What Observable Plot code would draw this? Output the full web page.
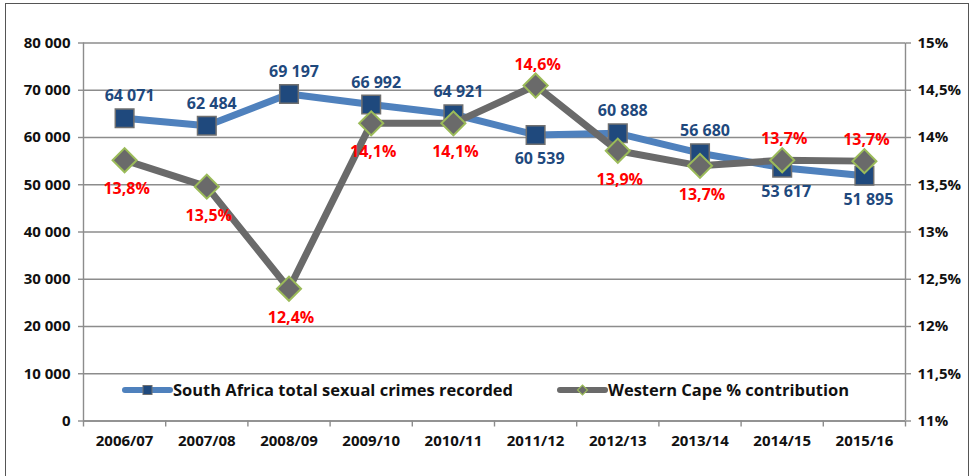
<!DOCTYPE html>
<html>
<head>
<meta charset="utf-8">
<script src="https://cdn.jsdelivr.net/npm/d3@7"></script>
<script src="https://cdn.jsdelivr.net/npm/@observablehq/plot@0.6"></script>
<style>
  html, body { margin: 0; padding: 0; background: #fff; }
  #wrap { position: relative; width: 974px; height: 476px; overflow: hidden; font-family: "Open Sans", "DejaVu Sans", sans-serif; }
  #frame { position: absolute; left: 5px; top: 3px; width: 964px; height: 500px; border: 1.5px solid #555; box-sizing: border-box; pointer-events: none; }
  #chart { position: absolute; left: 0; top: 0; }
  #legend { position: absolute; left: 0; top: 0; pointer-events: none; }
</style>
</head>
<body>
<div id="wrap">
  <div id="chart"></div>
  <div id="legend"></div>
  <div id="frame"></div>
</div>
<script>
const categories = ["2006/07","2007/08","2008/09","2009/10","2010/11","2011/12","2012/13","2013/14","2014/15","2015/16"];
const saTotals = [64071, 62484, 69197, 66992, 64921, 60539, 60888, 56680, 53617, 51895];
const saLabelPos = ["above","above","above","above","above","below","above","above","below","below"];
const wcShare = [13.76, 13.48, 12.40, 14.15, 14.15, 14.55, 13.86, 13.70, 13.76, 13.75];
const wcLabels = ["13,8%","13,5%","12,4%","14,1%","14,1%","14,6%","13,9%","13,7%","13,7%","13,7%"];
const wcLabelPos = ["below","below","below","below","below","above","below","below","above","above"];
const leftTicks = [0, 10000, 20000, 30000, 40000, 50000, 60000, 70000, 80000];
const rightTicks = [11, 11.5, 12, 12.5, 13, 13.5, 14, 14.5, 15];
const seriesNames = ["South Africa total sexual crimes recorded", "Western Cape % contribution"];

const locale = d3.formatLocale({decimal: ",", thousands: " ", grouping: [3], currency: ["", ""]});
const fmtInt = locale.format(",d");
const fmtPct = p => String(p).replace(".", ",") + "%";
const pctMin = 11, pctMax = 15, yMax = 80000;
const pctToY = p => (p - pctMin) / (pctMax - pctMin) * yMax;

const sa = categories.map((c, i) => ({i, c, v: saTotals[i], pos: saLabelPos[i]}));
const wc = categories.map((c, i) => ({i, c, p: wcShare[i], y: pctToY(wcShare[i]), label: wcLabels[i], pos: wcLabelPos[i]}));

const font = "'Open Sans', 'DejaVu Sans', sans-serif";
const navy = "#1F497D", blue = "#4F81BD", gray = "#6A6A6A", green = "#9BBB59", red = "#FF0000", grid = "#8C8C8C", ink = "#111";
const n = categories.length;

const chart = Plot.plot({
  width: 974,
  height: 476,
  marginLeft: 83,
  marginRight: 69,
  marginTop: 42.5,
  marginBottom: 55.5,
  x: {domain: [0, n], axis: null},
  y: {domain: [0, yMax], axis: null},
  style: {fontFamily: font, background: "transparent", overflow: "visible"},
  marks: [
    Plot.gridY(leftTicks, {stroke: grid, strokeOpacity: 1, strokeWidth: 1.4}),
    Plot.ruleX([0, n], {stroke: grid, strokeWidth: 1.4}),
    Plot.ruleY([0], {stroke: grid, strokeWidth: 1.4}),
    // axis tick marks
    Plot.axisY(leftTicks, {anchor: "left", tickSize: 5, stroke: grid, strokeWidth: 1.4, tickFormat: () => ""}),
    Plot.axisY(rightTicks.map(pctToY), {anchor: "right", tickSize: 5, stroke: grid, strokeWidth: 1.4, tickFormat: () => ""}),
    Plot.axisX(d3.range(n + 1), {anchor: "bottom", tickSize: 6, stroke: grid, strokeWidth: 1.4, tickFormat: () => ""}),
    // axis tick labels
    Plot.text(leftTicks, {x: 0, y: d => d, text: fmtInt, textAnchor: "end", dx: -13, fontSize: 15, fontWeight: "bold", fill: ink}),
    Plot.text(rightTicks, {x: n, y: pctToY, text: fmtPct, textAnchor: "start", dx: 12, fontSize: 15, fontWeight: "bold", fill: ink}),
    Plot.text(categories, {x: (d, i) => i + 0.5, y: 0, text: d => d, dy: 20, fontSize: 15, fontWeight: "bold", fill: ink}),
    // South Africa series
    Plot.line(sa, {x: d => d.i + 0.5, y: "v", stroke: blue, strokeWidth: 7, strokeLinejoin: "round", strokeLinecap: "round"}),
    Plot.dot(sa, {x: d => d.i + 0.5, y: "v", symbol: "square", r: 10.5, fill: navy, stroke: "#707070", strokeWidth: 1.5}),
    // Western Cape series
    Plot.line(wc, {x: d => d.i + 0.5, y: "y", stroke: gray, strokeWidth: 7, strokeLinejoin: "round", strokeLinecap: "round"}),
    Plot.dot(wc, {x: d => d.i + 0.5, y: "y", symbol: "square", rotate: 45, r: 9.6, fill: gray, stroke: green, strokeWidth: 2}),
    // Data labels
    Plot.text(sa.filter(d => d.pos === "above"), {x: d => d.i + 0.5, y: "v", text: d => fmtInt(d.v), dy: -22, dx: 5, fill: navy, fontSize: 16, fontWeight: "bold"}),
    Plot.text(sa.filter(d => d.pos === "below"), {x: d => d.i + 0.5, y: "v", text: d => fmtInt(d.v), dy: 24, dx: 4, fill: navy, fontSize: 16, fontWeight: "bold"}),
    Plot.text(wc.filter(d => d.pos === "above"), {x: d => d.i + 0.5, y: "y", text: "label", dy: -21, dx: 2, fill: red, fontSize: 16, fontWeight: "bold"}),
    Plot.text(wc.filter(d => d.pos === "below"), {x: d => d.i + 0.5, y: "y", text: "label", dy: 29, dx: 2, fill: red, fontSize: 16, fontWeight: "bold"})
  ]
});
document.getElementById("chart").appendChild(chart);

// Legend overlay (inside plot area, as in reference)
const leg = d3.select("#legend").append("svg").attr("width", 974).attr("height", 476)
  .style("font-family", font);
const entries = [
  {name: seriesNames[0], x0: 125, line: blue, kind: "square", w: 340},
  {name: seriesNames[1], x0: 560, line: gray, kind: "diamond", w: 241}
];
const ly = 390;
entries.forEach(e => {
  const g = leg.append("g");
  g.append("line").attr("x1", e.x0).attr("x2", e.x0 + 45).attr("y1", ly).attr("y2", ly)
    .attr("stroke", e.line).attr("stroke-width", 6).attr("stroke-linecap", "round");
  const cx = e.x0 + 22.5;
  if (e.kind === "square") {
    g.append("rect").attr("x", cx - 4.5).attr("y", ly - 4.5).attr("width", 9).attr("height", 9)
      .attr("fill", navy).attr("stroke", "#707070").attr("stroke-width", 1);
  } else {
    g.append("rect").attr("x", cx - 3.5).attr("y", ly - 3.5).attr("width", 7).attr("height", 7)
      .attr("transform", `rotate(45 ${cx} ${ly})`)
      .attr("fill", gray).attr("stroke", green).attr("stroke-width", 1.2);
  }
  g.append("text").attr("x", e.x0 + 48).attr("y", ly).attr("dy", "0.36em")
    .attr("font-size", 15.5).attr("font-weight", "bold").attr("fill", "#111")
    .attr("textLength", e.w).attr("lengthAdjust", "spacingAndGlyphs").text(e.name);
});
</script>
</body>
</html>
